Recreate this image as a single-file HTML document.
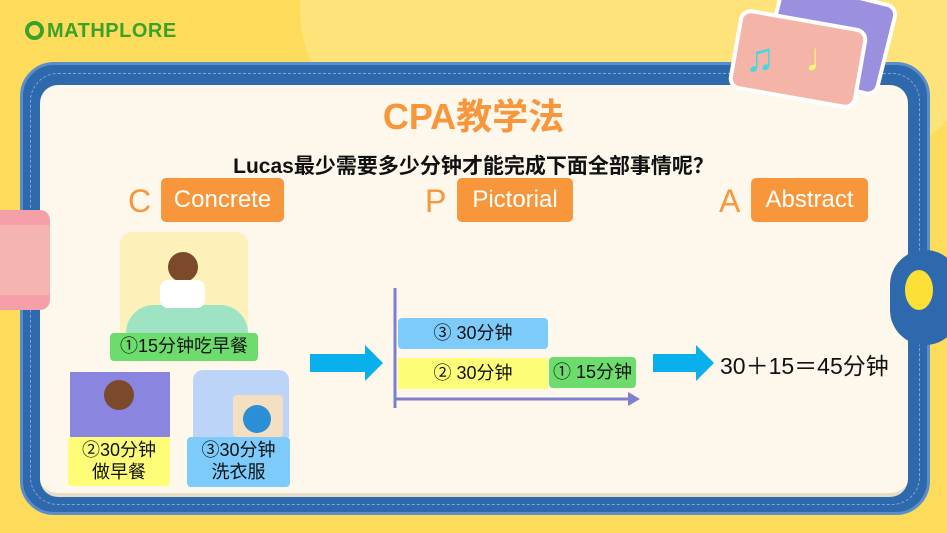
<!DOCTYPE html>
<html><head><meta charset="utf-8"><style>
*{margin:0;padding:0;box-sizing:border-box}
body{width:947px;height:533px;overflow:hidden;background:#fddc5c;position:relative;font-family:"Liberation Sans","Noto Sans CJK SC",sans-serif}
.a{position:absolute}
.lbl{position:absolute;display:flex;align-items:center;justify-content:center;text-align:center;color:#111;font-size:18px;border-radius:4px;line-height:1.2}
.ob{position:absolute;background:#f7963a;color:#fff;font-size:24px;border-radius:5px;display:flex;align-items:center;justify-content:center}
.ol{position:absolute;color:#f7963a;font-size:32px}
</style></head><body>
<div class="a" style="left:300px;top:-200px;width:700px;height:420px;border-radius:50%;background:#fee37a"></div>
<div class="a" style="left:25px;top:20px;font-size:20px;font-weight:bold;color:#3aa12b;letter-spacing:0.5px">
<span style="display:inline-block;width:19px;height:19px;border:4px solid #3aa12b;border-radius:50%;vertical-align:-3px;margin-right:3px"></span>MATHPLORE</div>
<div class="a" style="left:20px;top:62px;width:910px;height:453px;background:#2f69ad;border-radius:34px;border:3px solid #5b8ec9"></div>
<div class="a" style="left:30px;top:73px;width:890px;height:432px;border:1.5px dashed #7fa6d6;border-radius:28px"></div>
<div class="a" style="left:40px;top:85px;width:868px;height:412px;background:#fdf7ec;border-radius:18px;border-bottom:4px solid #e7dcc5"></div>
<div class="a" style="left:770px;top:-10px;width:120px;height:95px;background:#9b8fe0;border:4px solid #fff;border-radius:12px;transform:rotate(14deg)"></div>
<div class="a" style="left:733px;top:18px;width:130px;height:82px;background:#f5b4a8;border:4px solid #fff;border-radius:12px;transform:rotate(10deg)"></div>
<div class="a" style="left:745px;top:36px;font-size:40px;color:#3fd8e8">♫</div>
<div class="a" style="left:805px;top:36px;font-size:40px;color:#fdf57a">♩</div>
<div class="a" style="left:-10px;top:210px;width:60px;height:100px;background:#f5a0a8;border-radius:10px"></div>
<div class="a" style="left:0;top:225px;width:50px;height:70px;background:#f6b4b0"></div>
<div class="a" style="left:890px;top:250px;width:70px;height:95px;background:#2f69ad;border-radius:40px"></div>
<div class="a" style="left:905px;top:270px;width:28px;height:40px;background:#fde035;border-radius:50%"></div>
<div class="a" style="left:0;top:99px;width:947px;text-align:center;font-size:36px;font-weight:bold;color:#f7963a;line-height:1">CPA教学法</div>
<div class="a" style="left:0;top:150px;width:947px;text-align:center;font-size:21px;font-weight:bold;color:#111">Lucas最少需要多少分钟才能完成下面全部事情呢？</div>
<div class="ol" style="left:128px;top:183px">C</div><div class="ob" style="left:161px;top:178px;width:123px;height:44px">Concrete</div>
<div class="ol" style="left:425px;top:183px">P</div><div class="ob" style="left:457px;top:178px;width:116px;height:44px">Pictorial</div>
<div class="ol" style="left:719px;top:183px">A</div><div class="ob" style="left:751px;top:178px;width:117px;height:44px">Abstract</div>
<div class="a" style="left:120px;top:232px;width:128px;height:101px;background:#fdf0b8;border-radius:12px 12px 0 0"></div>
<div class="a" style="left:126px;top:305px;width:122px;height:28px;background:#9ee4c4;border-radius:30px 30px 0 0"></div>
<div class="a" style="left:168px;top:252px;width:30px;height:30px;background:#7a4a2a;border-radius:50%"></div>
<div class="a" style="left:160px;top:280px;width:45px;height:28px;background:#fff;border-radius:8px"></div>
<div class="lbl" style="left:110px;top:333px;width:148px;height:28px;background:#6cdc6c">①15分钟吃早餐</div>
<div class="a" style="left:70px;top:372px;width:100px;height:65px;background:#8a86e0"></div>
<div class="a" style="left:104px;top:380px;width:30px;height:30px;background:#7a4a2a;border-radius:50%"></div>
<div class="lbl" style="left:68px;top:437px;width:102px;height:49px;background:#fdfd78">②30分钟<br>做早餐</div>
<div class="a" style="left:193px;top:370px;width:96px;height:67px;background:#bcd4f8;border-radius:10px 10px 0 0"></div>
<div class="a" style="left:233px;top:395px;width:50px;height:42px;background:#f4e0c0;border-radius:4px"></div>
<div class="a" style="left:243px;top:405px;width:28px;height:28px;background:#2b8fd6;border-radius:50%"></div>
<div class="lbl" style="left:187px;top:437px;width:103px;height:50px;background:#7ccbfb">③30分钟<br>洗衣服</div>
<svg class="a" style="left:0;top:0" width="947" height="533">
<polygon points="310,354 365,354 365,345 383,363 365,381 365,372 310,372" fill="#0ab0ec"/>
<polygon points="653,354 696,354 696,345 714,363 696,381 696,372 653,372" fill="#0ab0ec"/>
<line x1="395" y1="288" x2="395" y2="408" stroke="#7f7fd0" stroke-width="3"/>
<line x1="395" y1="399" x2="630" y2="399" stroke="#7f7fd0" stroke-width="3"/>
<polygon points="628,392 640,399 628,406" fill="#7f7fd0"/>
</svg>
<div class="lbl" style="left:398px;top:318px;width:150px;height:31px;background:#7ccbfb">③ 30分钟</div>
<div class="lbl" style="left:398px;top:358px;width:150px;height:31px;background:#fdfd78;border-radius:0">② 30分钟</div>
<div class="lbl" style="left:549px;top:357px;width:87px;height:31px;background:#6cdc6c">① 15分钟</div>
<div class="a" style="left:720px;top:347px;font-size:23px;color:#111">30＋15＝45分钟</div>
</body></html>
